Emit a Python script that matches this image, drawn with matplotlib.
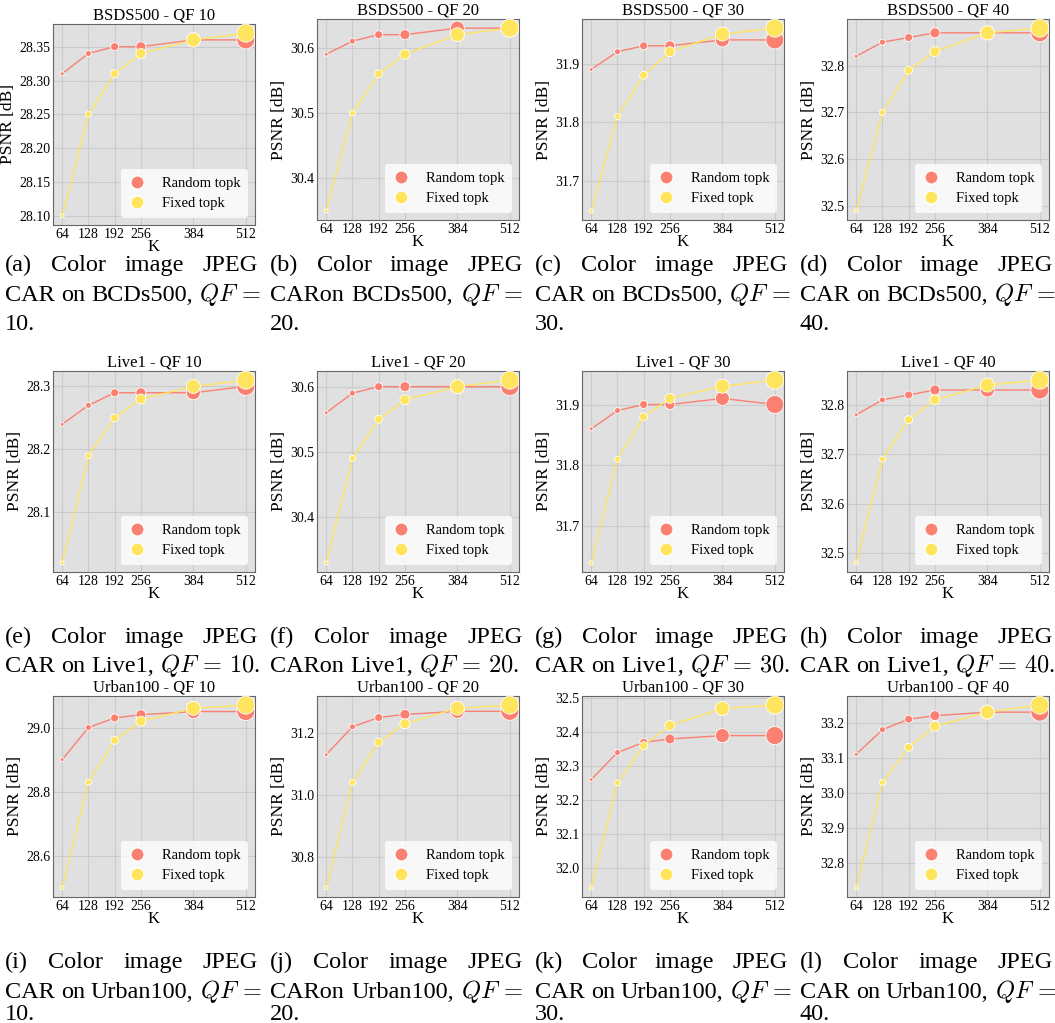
import matplotlib
matplotlib.use('Agg')
import matplotlib.pyplot as plt
from matplotlib.lines import Line2D

plt.rcParams['font.family'] = ['Liberation Serif', 'DejaVu Serif']
plt.rcParams['mathtext.fontset'] = 'cm'

# K values (x axis)
k_values = [64, 128, 192, 256, 384, 512]
qf_values = [10, 20, 30, 40]
dataset_names = ['BSDS500', 'Live1', 'Urban100']

# PSNR per QF (rows: QF 10, 20, 30, 40)
bsds_random = [[28.31, 28.34, 28.35, 28.35, 28.36, 28.36],
               [30.59, 30.61, 30.62, 30.62, 30.63, 30.63],
               [31.89, 31.92, 31.93, 31.93, 31.94, 31.94],
               [32.82, 32.85, 32.86, 32.87, 32.87, 32.87]]
bsds_fixed = [[28.10, 28.25, 28.31, 28.34, 28.36, 28.37],
              [30.35, 30.50, 30.56, 30.59, 30.62, 30.63],
              [31.65, 31.81, 31.88, 31.92, 31.95, 31.96],
              [32.49, 32.70, 32.79, 32.83, 32.87, 32.88]]
live1_random = [[28.24, 28.27, 28.29, 28.29, 28.29, 28.30],
                [30.56, 30.59, 30.60, 30.60, 30.60, 30.60],
                [31.86, 31.89, 31.90, 31.90, 31.91, 31.90],
                [32.78, 32.81, 32.82, 32.83, 32.83, 32.83]]
live1_fixed = [[28.02, 28.19, 28.25, 28.28, 28.30, 28.31],
               [30.33, 30.49, 30.55, 30.58, 30.60, 30.61],
               [31.64, 31.81, 31.88, 31.91, 31.93, 31.94],
               [32.48, 32.69, 32.77, 32.81, 32.84, 32.85]]
urban_random = [[28.90, 29.00, 29.03, 29.04, 29.05, 29.05],
                [31.13, 31.22, 31.25, 31.26, 31.27, 31.27],
                [32.26, 32.34, 32.37, 32.38, 32.39, 32.39],
                [33.11, 33.18, 33.21, 33.22, 33.23, 33.23]]
urban_fixed = [[28.50, 28.83, 28.96, 29.02, 29.06, 29.07],
               [30.70, 31.04, 31.17, 31.23, 31.28, 31.29],
               [31.94, 32.25, 32.36, 32.42, 32.47, 32.48],
               [32.73, 33.03, 33.13, 33.19, 33.23, 33.25]]

# y tick labels per panel
bsds_yticks = [['28.10', '28.15', '28.20', '28.25', '28.30', '28.35'],
               ['30.4', '30.5', '30.6'],
               ['31.7', '31.8', '31.9'],
               ['32.5', '32.6', '32.7', '32.8']]
live1_yticks = [['28.1', '28.2', '28.3'],
                ['30.4', '30.5', '30.6'],
                ['31.7', '31.8', '31.9'],
                ['32.5', '32.6', '32.7', '32.8']]
urban_yticks = [['28.6', '28.8', '29.0'],
                ['30.8', '31.0', '31.2'],
                ['32.0', '32.1', '32.2', '32.3', '32.4', '32.5'],
                ['32.8', '32.9', '33.0', '33.1', '33.2']]

# captions under each panel (lines)
captions = [
    [['(a) Color image JPEG', r'CAR on BCDs500, $QF\,=$', '10.'],
     ['(b) Color image JPEG', r'CARon BCDs500, $QF\,=$', '20.'],
     ['(c) Color image JPEG', r'CAR on BCDs500, $QF\,=$', '30.'],
     ['(d) Color image JPEG', r'CAR on BCDs500, $QF\,=$', '40.']],
    [['(e) Color image JPEG', r'CAR on Live1, $QF\,=\,10$.'],
     ['(f) Color image JPEG', r'CARon Live1, $QF\,=\,20$.'],
     ['(g) Color image JPEG', r'CAR on Live1, $QF\,=\,30$.'],
     ['(h) Color image JPEG', r'CAR on Live1, $QF\,=\,40$.']],
    [['(i) Color image JPEG', r'CAR on Urban100, $QF\,=$', '10.'],
     ['(j) Color image JPEG', r'CARon Urban100, $QF\,=$', '20.'],
     ['(k) Color image JPEG', r'CAR on Urban100, $QF\,=$', '30.'],
     ['(l) Color image JPEG', r'CAR on Urban100, $QF\,=$', '40.']],
]

random_data = [bsds_random, live1_random, urban_random]
fixed_data = [bsds_fixed, live1_fixed, urban_fixed]
ytick_data = [bsds_yticks, live1_yticks, urban_yticks]

RANDOM_COLOR = '#fa8072'
FIXED_COLOR = '#ffe45e'

W, H = 1055, 1023
fig = plt.figure(figsize=(W / 100, H / 100), dpi=100)

col_left = [53, 317, 582, 847]
row_top = [19, 371, 696]
ax_w, ax_h = 202, 201
cap_left = [5, 270, 535, 800]
cap_width = 253
cap_baselines = [[271, 301, 330], [643, 672], [968, 998, 1020]]
CAP_SIZE = 17.5


def marker_area(k):
    d_px = 2.0 + k / 32.0
    return (d_px * 0.72) ** 2


sizes = [marker_area(k) for k in k_values]

for r in range(3):
    for c in range(4):
        top = row_top[r] + (5 if (r == 0 and c == 0) else 0)
        ax = fig.add_axes([col_left[c] / W, 1 - (top + ax_h) / H, ax_w / W, ax_h / H])
        ax.set_facecolor('#e0e0e0')
        ax.grid(True, color='#cbcbcb', linewidth=0.8)
        ax.set_axisbelow(True)
        for sp in ax.spines.values():
            sp.set_color('#666666')
            sp.set_linewidth(0.8)

        rnd = random_data[r][c]
        fix = fixed_data[r][c]
        ax.plot(k_values, rnd, color=RANDOM_COLOR, linewidth=1.0, zorder=2)
        ax.scatter(k_values, rnd, s=sizes, color=RANDOM_COLOR, edgecolor='white',
                   linewidth=0.6, zorder=3)
        ax.plot(k_values, fix, color=FIXED_COLOR, linewidth=1.0, zorder=4)
        ax.scatter(k_values, fix, s=sizes, color=FIXED_COLOR, edgecolor='white',
                   linewidth=0.6, zorder=5)

        ax.set_xticks(k_values)
        ax.set_xticklabels([str(k) for k in k_values])
        labels = ytick_data[r][c]
        ax.set_yticks([float(t) for t in labels])
        ax.set_yticklabels(labels)
        ax.tick_params(length=0, labelsize=10, pad=2)

        ax.set_title(f'{dataset_names[r]} - QF {qf_values[c]}', fontsize=12, pad=3)
        ax.set_xlabel('K', fontsize=12, labelpad=-1)
        ax.set_ylabel('PSNR [dB]', fontsize=12.5, labelpad=2)

        handles = [Line2D([], [], linestyle='none', marker='o', markersize=9.5,
                          markerfacecolor=RANDOM_COLOR, markeredgecolor='white'),
                   Line2D([], [], linestyle='none', marker='o', markersize=9.5,
                          markerfacecolor=FIXED_COLOR, markeredgecolor='white')]
        leg = ax.legend(handles, ['Random topk', 'Fixed topk'], loc='lower right',
                        fontsize=10.5, frameon=True, framealpha=0.8, edgecolor='none',
                        handlelength=1.2, handletextpad=1.1, borderpad=0.5,
                        labelspacing=0.5)
        leg.get_frame().set_facecolor('white')

# captions, justified like the paper text
renderer = fig.canvas.get_renderer()
for r in range(3):
    for c in range(4):
        lines = captions[r][c]
        x0 = cap_left[c]
        for i, line in enumerate(lines):
            y = 1 - cap_baselines[r][i] / H
            words = line.split(' ')
            texts = [fig.text(0, y, w_, fontsize=CAP_SIZE, ha='left', va='baseline')
                     for w_ in words]
            widths = [t.get_window_extent(renderer).width for t in texts]
            space = CAP_SIZE * 0.25 * 100 / 72
            natural = sum(widths) + space * (len(words) - 1)
            last = (i == len(lines) - 1)
            if last or len(words) == 1 or natural > cap_width:
                gap = space
            else:
                gap = (cap_width - sum(widths)) / (len(words) - 1)
            x = x0
            for t, wd in zip(texts, widths):
                t.set_x(x / W)
                x += wd + gap

fig.savefig('out.png', dpi=100)
